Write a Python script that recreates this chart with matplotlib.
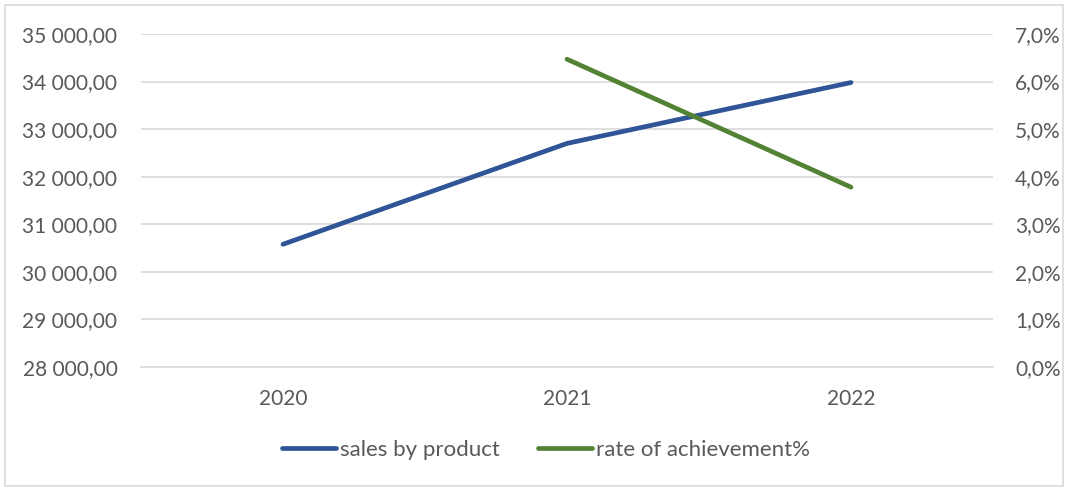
import matplotlib
matplotlib.use("Agg")
import matplotlib.pyplot as plt
from matplotlib.ticker import FuncFormatter, MultipleLocator
from matplotlib.patches import Rectangle
from matplotlib.lines import Line2D

years = ["2020", "2021", "2022"]
sales = [30580, 32700, 33980]
rate_years = ["2021", "2022"]
rate = [6.47, 3.78]

BLUE = "#2F5597"
GREEN = "#548235"
GREY_TXT = "#595959"
GRID = "#D9D9D9"

plt.rcParams["font.family"] = ["Lato", "DejaVu Sans"]


def eur_fmt(v, _):
    s = f"{v:,.2f}"
    return s.replace(",", " ").replace(".", ",")


def pct_fmt(v, _):
    return f"{v:.1f}%".replace(".", ",")


fig = plt.figure(figsize=(10.68, 4.87), dpi=100)
ax = fig.add_axes([141 / 1068, 1 - 367 / 487, 852 / 1068, 333 / 487])
ax2 = ax.twinx()

x = list(range(len(years)))
xr = [years.index(y) for y in rate_years]

ax.plot(x, sales, color=BLUE, lw=3.4, solid_capstyle="round", solid_joinstyle="round", zorder=3)
ax2.plot(xr, rate, color=GREEN, lw=3.4, solid_capstyle="round", solid_joinstyle="round", zorder=3)

ax.set_xlim(-0.5, 2.5)
ax.set_ylim(28000, 35000)
ax.yaxis.set_major_locator(MultipleLocator(1000))
ax.yaxis.set_major_formatter(FuncFormatter(eur_fmt))
ax2.set_ylim(0, 7)
ax2.yaxis.set_major_locator(MultipleLocator(1))
ax2.yaxis.set_major_formatter(FuncFormatter(pct_fmt))

ax.set_xticks(x)
ax.set_xticklabels(years)
ax.grid(axis="y", color=GRID, lw=1.2)
ax.set_axisbelow(True)

for a in (ax, ax2):
    for sp in a.spines.values():
        sp.set_visible(False)
    a.tick_params(length=0, labelsize=15, colors=GREY_TXT)
ax.spines["bottom"].set_visible(True)
ax.spines["bottom"].set_color(GRID)
ax.spines["bottom"].set_linewidth(1.2)
ax.tick_params(axis="y", pad=17)
ax.tick_params(axis="x", pad=16)
ax2.tick_params(axis="y", pad=16)

handles = [Line2D([], [], color=BLUE, lw=3.4, solid_capstyle="round"),
           Line2D([], [], color=GREEN, lw=3.4, solid_capstyle="round")]
fig.legend(handles, ["sales by product", "rate of achievement%"],
           loc="center", bbox_to_anchor=(546 / 1068, 1 - 450 / 487), ncol=2,
           frameon=False, fontsize=16, labelcolor=GREY_TXT,
           handlelength=2.4, handletextpad=0.18, columnspacing=1.75)

# outer chart frame
fig.patches.append(Rectangle((5 / 1068, 1 / 487), 1058 / 1068, 481 / 487,
                             transform=fig.transFigure, fill=False,
                             edgecolor="#D9D9D9", lw=1.2))

fig.savefig("out.png", dpi=100)
